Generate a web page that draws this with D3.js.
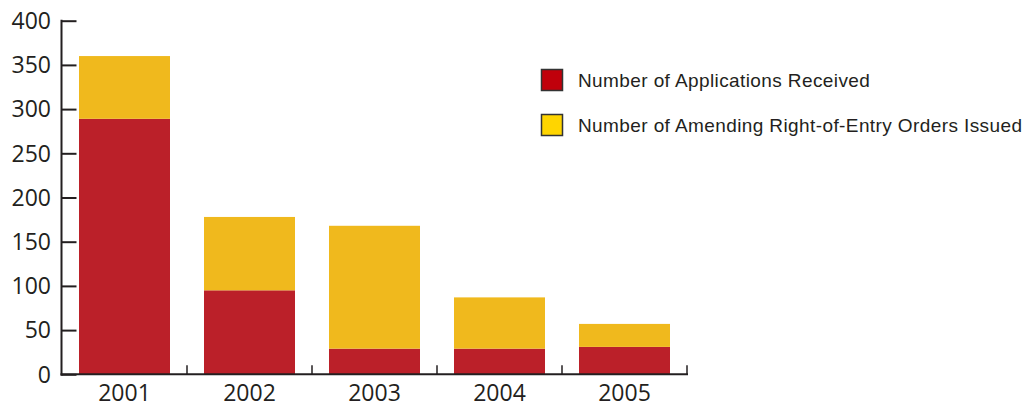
<!DOCTYPE html>
<html>
<head>
<meta charset="utf-8">
<script src="https://cdn.jsdelivr.net/npm/d3@7.9.0/dist/d3.min.js"></script>
<style>
  body { margin: 0; background: #fff; }
  svg { display: block; }
  .tick-label { font-family: "Open Sans", sans-serif; font-size: 23px; fill: #231f20; }
  .legend-text { font-family: "Liberation Sans", Arial, sans-serif; font-size: 19px; letter-spacing: 0.4px; fill: #231f20; }
</style>
</head>
<body>
<svg id="chart" width="1028" height="405"></svg>
<script>
// data
const years = ['2001', '2002', '2003', '2004', '2005'];
const applications = [289, 95, 29, 29, 31];   // red, bottom
const amendingOrders = [71, 83, 139, 58, 26]; // yellow, stacked on top
const yTicks = [0, 50, 100, 150, 200, 250, 300, 350, 400];
const seriesNames = ['Number of Applications Received', 'Number of Amending Right-of-Entry Orders Issued'];
const barColors = ['#bb2029', '#f0b91d'];
const legendColors = ['#c0000b', '#ffd500'];

const svg = d3.select('#chart');
const axisColor = '#231f20';

let x = d3.scaleBand().domain(years).range([62, 687]).paddingInner(0.272).paddingOuter(0.136);
let y = d3.scaleLinear().domain([0, 400]).range([374.3, 20.7]);

let rows = years.map((yr, i) => ({ year: yr, applications: applications[i], amendingOrders: amendingOrders[i] }));
let stacked = d3.stack().keys(['applications', 'amendingOrders'])(rows);

svg.selectAll('g.series')
  .data(stacked)
  .join('g')
  .attr('class', 'series')
  .attr('fill', (d, i) => barColors[i])
  .selectAll('rect')
  .data((d) => d)
  .join('rect')
  .attr('x', (d) => x(d.data.year))
  .attr('width', x.bandwidth())
  .attr('y', (d) => y(d[1]))
  .attr('height', (d) => y(d[0]) - y(d[1]));

// y axis: ticks point inward
let yAxis = svg.append('g')
  .attr('transform', 'translate(61.5,0)')
  .call(d3.axisRight(y).tickValues(yTicks).tickSize(15).tickFormat(''));
yAxis.select('.domain').remove();
yAxis.selectAll('.tick line').attr('stroke', axisColor).attr('stroke-width', 2);
yAxis.append('line')
  .attr('x1', 0).attr('x2', 0)
  .attr('y1', y(400) - 1).attr('y2', y(0) + 1.5)
  .attr('stroke', axisColor).attr('stroke-width', 2);

svg.append('g').selectAll('text')
  .data(yTicks)
  .join('text')
  .attr('class', 'tick-label')
  .attr('x', 51)
  .attr('y', (d) => y(d))
  .attr('dy', '0.36em')
  .attr('text-anchor', 'end')
  .text((d) => d);

// x axis with small upward ticks at band edges
let xAxis = svg.append('g').attr('transform', `translate(0,${y(0)})`);
xAxis.append('line')
  .attr('x1', 60.5).attr('x2', 688)
  .attr('stroke', axisColor).attr('stroke-width', 2);
let edges = years.map((yr) => x(yr) + x.bandwidth() + x.step() * x.paddingInner() / 2);
xAxis.selectAll('line.edge')
  .data(edges)
  .join('line')
  .attr('class', 'edge')
  .attr('x1', (d) => d).attr('x2', (d) => d)
  .attr('y1', 0).attr('y2', -9)
  .attr('stroke', axisColor).attr('stroke-width', 1.5);
xAxis.selectAll('text')
  .data(years)
  .join('text')
  .attr('class', 'tick-label')
  .attr('x', (d) => x(d) + x.bandwidth() / 2)
  .attr('y', 27)
  .attr('text-anchor', 'middle')
  .text((d) => d);

// legend
let legend = svg.append('g').attr('transform', 'translate(541,69)');
let items = legend.selectAll('g')
  .data(seriesNames)
  .join('g')
  .attr('transform', (d, i) => `translate(0,${i * 45})`);
items.append('rect')
  .attr('x', 0.5).attr('y', 0.5)
  .attr('width', 21).attr('height', 21)
  .attr('fill', (d, i) => legendColors[i])
  .attr('stroke', '#333').attr('stroke-width', 1.5);
items.append('text')
  .attr('class', 'legend-text')
  .attr('x', 37)
  .attr('y', 11)
  .attr('dy', '0.35em')
  .text((d) => d);
</script>
</body>
</html>
